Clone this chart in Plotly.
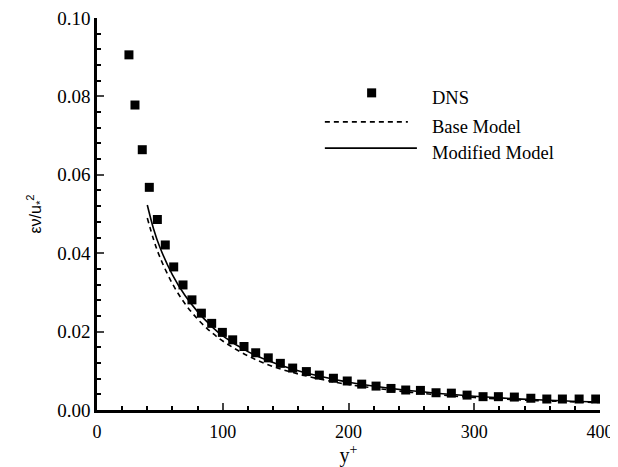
import plotly.graph_objects as go

# DNS data
dns_y = [25.4, 30.2, 36.0, 41.6, 48.0, 54.3, 61.0, 68.4, 75.5, 83.0, 91.2, 99.7, 107.9,
         116.9, 126.2, 136.2, 145.8, 155.6, 166.5, 176.8, 188.0, 199.0, 210.5, 221.9,
         233.8, 245.5, 257.2, 269.6, 281.8, 294.3, 307.0, 319.2, 331.9, 345.0, 357.7,
         370.1, 383.4, 396.6]
dns_eps = [0.0906, 0.0778, 0.0664, 0.0568, 0.0486, 0.0421, 0.0365, 0.0319, 0.0281, 0.0247,
           0.0221, 0.0198, 0.0179, 0.0162, 0.0146, 0.0133, 0.0119, 0.0107, 0.0098, 0.0089,
           0.0081, 0.0074, 0.0066, 0.0061, 0.0055, 0.0051, 0.0050, 0.0044, 0.0043, 0.0038,
           0.0034, 0.0034, 0.0033, 0.0030, 0.0028, 0.0028, 0.0028, 0.0028]

# Model curves
model_y = [40, 45, 50, 60, 70, 80, 90, 100, 120, 140, 160, 180, 200, 250, 300, 350, 400]
modified_eps = [0.0523, 0.0462, 0.0415, 0.0345, 0.0292, 0.0251, 0.0217, 0.0189, 0.0149,
                0.0121, 0.0100, 0.0084, 0.0071, 0.0049, 0.0035, 0.0026, 0.0020]
base_eps = [0.0490, 0.0435, 0.0390, 0.0322, 0.0271, 0.0232, 0.0201, 0.0176, 0.0138,
            0.0111, 0.0092, 0.0077, 0.0065, 0.0045, 0.0032, 0.0024, 0.0019]

x_ticks = [0, 100, 200, 300, 400]
y_ticks = [0.00, 0.02, 0.04, 0.06, 0.08, 0.10]
y_tick_labels = ["0.00", "0.02", "0.04", "0.06", "0.08", "0.10"]
legend_labels = ["DNS", "Base Model", "Modified Model"]

serif = "Liberation Serif"

fig = go.Figure()
fig.add_trace(go.Scatter(x=model_y, y=base_eps, mode="lines", name="Base Model",
                         line=dict(color="black", width=1.6, dash="5px,4px"), line_shape="spline"))
fig.add_trace(go.Scatter(x=model_y, y=modified_eps, mode="lines", name="Modified Model",
                         line=dict(color="black", width=1.6), line_shape="spline"))
fig.add_trace(go.Scatter(x=dns_y, y=dns_eps, mode="markers", name="DNS",
                         marker=dict(symbol="square", size=9, color="black")))

# Custom legend (paper coordinates)
lx0, ltx = 0.453, 0.662
rows = [0.809, 0.735, 0.668]
fig.add_shape(type="rect", xref="paper", yref="paper", x0=0.537, x1=0.555,
              y0=rows[0] - 0.0115, y1=rows[0] + 0.0115, fillcolor="black", line=dict(width=0))
fig.add_shape(type="line", xref="paper", yref="paper", x0=lx0, x1=0.618, y0=rows[1], y1=rows[1],
              line=dict(color="black", width=1.6, dash="5px,4px"))
fig.add_shape(type="line", xref="paper", yref="paper", x0=lx0, x1=0.636, y0=rows[2], y1=rows[2],
              line=dict(color="black", width=1.6))
for txt, yy in zip(legend_labels, rows):
    fig.add_annotation(x=ltx, y=yy - 0.012, xref="paper", yref="paper", text=txt, showarrow=False,
                       xanchor="left", yanchor="middle",
                       font=dict(family=serif, size=18.5, color="black"))

# page body has an 8px margin, so the figure is sized/offset to land on the reference layout
fig.update_layout(
    width=610, height=459,
    margin=dict(l=89, r=18, t=10, b=57),
    paper_bgcolor="white", plot_bgcolor="white",
    showlegend=False,
    font=dict(family=serif, size=18, color="black"),
)
fig.update_xaxes(range=[0, 400], tickvals=x_ticks, ticks="inside", ticklen=7, tickwidth=1.5,
                 showline=True, linewidth=2.5, linecolor="black", showgrid=False, zeroline=False,
                 automargin=False, tickfont=dict(family=serif, size=18), ticklabelstandoff=4,
                 ticklabeloverflow="allow",
                 minor=dict(dtick=20, ticks="inside", ticklen=4, tickcolor="black", showgrid=False),
                 title=dict(text="y<sup>+</sup>", standoff=0, font=dict(family=serif, size=20)))
fig.update_yaxes(range=[0, 0.1], tickvals=y_ticks, ticktext=y_tick_labels, ticks="inside",
                 ticklen=7, tickwidth=1.5, showline=True, linewidth=2.5, linecolor="black",
                 showgrid=False, zeroline=False, automargin=False, ticklabeloverflow="allow",
                 tickfont=dict(family=serif, size=19),
                 minor=dict(dtick=0.004, ticks="inside", ticklen=4, tickcolor="black", showgrid=False),
                 title=dict(text="εν/u<sub>*</sub><sup>2</sup>", standoff=12,
                            font=dict(family="Liberation Sans", size=16)))

fig.write_html("out.html")
